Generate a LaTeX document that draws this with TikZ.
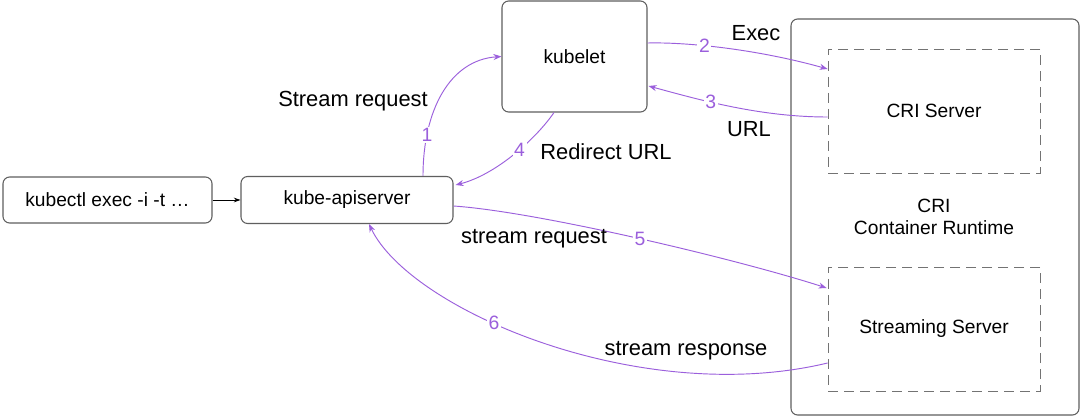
\documentclass[tikz,border=0pt]{standalone}
\usepackage{fontspec}
\setmainfont{Liberation Sans}
\usetikzlibrary{arrows.meta,calc}
\definecolor{flow}{RGB}{155,95,220}
\definecolor{edge}{RGB}{95,95,95}
\definecolor{dedge}{RGB}{115,115,115}
\begin{document}
\begin{tikzpicture}[x=0.75pt,y=-0.75pt,
  box/.style={draw=edge,line width=0.8pt,rounded corners=5pt,fill=white,font=\fontsize{14.4}{16}\selectfont,align=center,inner sep=0pt},
  dbox/.style={draw=dedge,line width=0.6pt,dash pattern=on 7.5pt off 4.5pt,font=\fontsize{14.4}{16}\selectfont,inner sep=0pt},
  flowline/.style={draw=flow,line width=0.7pt,-{Stealth[length=6pt,width=4.5pt]}},
  num/.style={fill=white,inner sep=1.2pt,text=flow,font=\fontsize{14.5}{16}\selectfont},
  lbl/.style={font=\fontsize{16.4}{19}\selectfont,inner sep=0pt}]
\useasboundingbox (0,0) rectangle (1080,416);
\fill[white] (0,0) rectangle (1080,416);

\node[box,minimum width=209*0.75pt,minimum height=46*0.75pt] (kubectl) at (107.5,200) {kubectl exec -i -t \dots};
\node[box,minimum width=212*0.75pt,minimum height=47*0.75pt] (api) at (347,200) {kube-apiserver};
\node[box,minimum width=145*0.75pt,minimum height=111*0.75pt] (kubelet) at (574.5,56.5) {kubelet};
\node[box,minimum width=288*0.75pt,minimum height=396*0.75pt,fill=none] (cri) at (935,217) {};
\node[dbox,minimum width=212*0.75pt,minimum height=124*0.75pt] (criserver) at (934,111) {CRI Server};
\node[dbox,minimum width=212*0.75pt,minimum height=124*0.75pt] (stream) at (934,329) {Streaming Server};
\node[font=\fontsize{14.4}{17}\selectfont,align=center] (crilabel) at (934,217) {CRI\\Container Runtime};

\draw[draw=black,line width=0.7pt,-{Stealth[length=5pt,width=3.5pt]}] (kubectl) -- (api);

% 1
\draw[flowline] ($(api.north)+(76,0)$) .. controls (423,110) and (450,60) .. (kubelet.west)
  node[num,pos=0.22] {1};
% 2
\draw[flowline] ($(kubelet.east)+(0,-13.5)$) .. controls (690,42) and (760,50) .. ($(criserver.west)+(0,-42)$)
  node[num,pos=0.37] {2};
% 3
\draw[flowline] ($(criserver.west)+(0,6)$) .. controls (760,117) and (700,100) .. ($(kubelet.east)+(1,29.5)$)
  node[num,pos=0.62] {3};
% 4
\draw[flowline] ($(kubelet.south)+(-20.5,0)$) .. controls (535,140) and (495,175) .. ($(api.east)+(2,-15)$)
  node[num,pos=0.43] {4};
% 5
\draw[flowline] ($(api.east)+(0,6)$) .. controls (540,212) and (740,260) .. ($(stream.west)+(-1,-41)$)
  node[num,pos=0.5] {5};
% 6
\draw[flowline] ($(stream.west)+(0,34)$) .. controls (640,408) and (410,310) .. ($(api.south)+(22,0)$)
  node[num,pos=0.6] {6};

\node[lbl] (l1) at (353,101) {Stream request};
\node[lbl] (l2) at (756,33) {Exec};
\node[lbl] (l3) at (749,129) {URL};
\node[lbl] (l4) at (606,152) {Redirect URL};
\node[lbl] (l5) at (534,239) {stream request};
\node[lbl] (l6) at (686,351) {stream response};
\end{tikzpicture}
\end{document}
